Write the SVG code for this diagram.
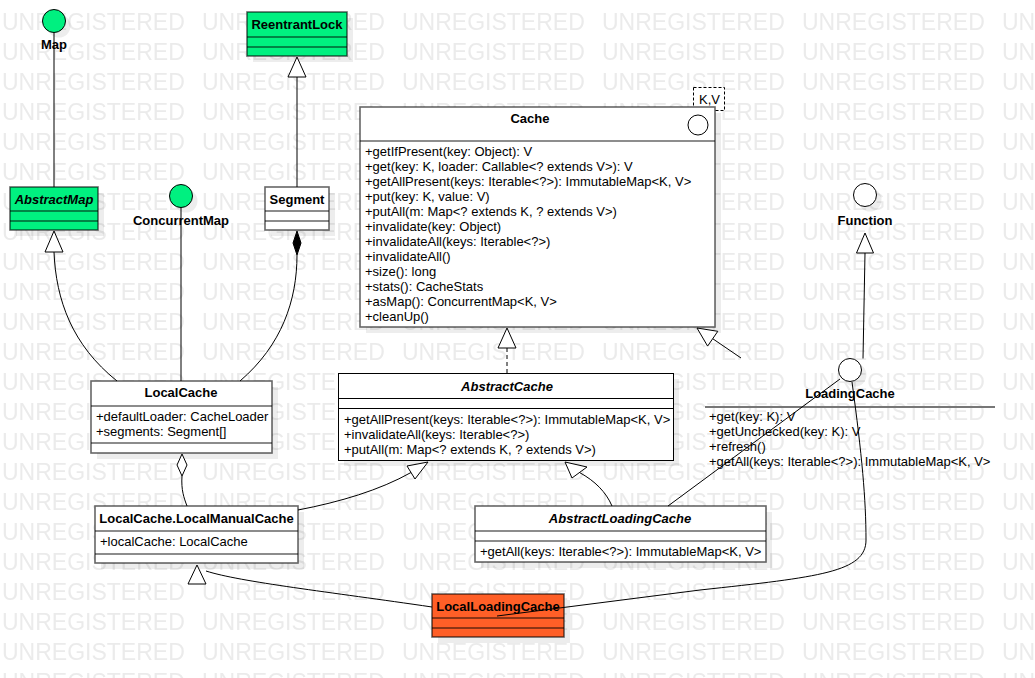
<svg xmlns="http://www.w3.org/2000/svg" width="1035" height="678" viewBox="0 0 1035 678">
<defs>
<style>
text{font-family:"Liberation Sans",Arial,sans-serif;font-size:13px;fill:#000}
.t{font-weight:bold;text-anchor:middle}
.ti{font-weight:bold;font-style:italic;text-anchor:middle}
.wm{font-size:23px;fill:#ebebeb}
.box{stroke:#000;stroke-opacity:.6;stroke-width:1.6}
.thin{stroke:#000;stroke-width:1}
.sep{stroke:#000;stroke-opacity:.6;stroke-width:1.6;fill:none}
.sept{stroke:#000;stroke-width:1;fill:none}
.sh{fill:#000;fill-opacity:.07}
.g{fill:#00f080}
.o{fill:#ff5f27}
.w{fill:#fff}
.circ{stroke:#000;stroke-width:1}
.c{fill:none;stroke:#000;stroke-width:1}
.hd{fill:#fff;stroke:#000;stroke-width:1}
.fd{fill:#000;stroke:#000;stroke-width:1}
</style>
<pattern id="wmp" width="200" height="30" patternUnits="userSpaceOnUse">
<text class="wm" x="2" y="30">UNREGISTERED</text>
</pattern>
</defs>
<rect width="1035" height="678" fill="#fff"/>
<rect width="1035" height="678" fill="url(#wmp)"/>

<g id="Map">
<circle class="sh" cx="59" cy="26" r="11.5"/>
<circle class="g circ" cx="54" cy="21" r="11.5"/>
<text class="t" x="54" y="49">Map</text>
</g>

<g id="ReentrantLock">
<rect class="sh" x="253" y="18" width="100" height="44"/>
<rect class="g box" x="247" y="12" width="100" height="44"/>
<path class="sep" d="M247,37H347M247,47H347"/>
<text class="t" x="297" y="29">ReentrantLock</text>
</g>

<g id="AbstractMap">
<rect class="sh" x="16" y="193" width="88" height="43"/>
<rect class="g box" x="10" y="187" width="88" height="43"/>
<path class="sep" d="M10,211H98M10,221H98"/>
<text class="ti" x="54" y="204">AbstractMap</text>
</g>

<g id="ConcurrentMap">
<circle class="sh" cx="186" cy="201" r="11.5"/>
<circle class="g circ" cx="181" cy="196" r="11.5"/>
<text class="t" x="181" y="225">ConcurrentMap</text>
</g>

<g id="Segment">
<rect class="sh" x="271" y="193" width="64" height="43"/>
<rect class="w box" x="265" y="187" width="64" height="43"/>
<path class="sep" d="M265,211H329M265,221H329"/>
<text class="t" x="297" y="204">Segment</text>
</g>

<g id="Cache">
<rect x="693.5" y="87.5" width="31" height="23" fill="#fff" stroke="#000" stroke-dasharray="3,2"/>
<text x="699" y="104">K,V</text>
<rect class="sh" x="366" y="113" width="355" height="220"/>
<rect class="w box" x="360" y="107" width="355" height="220"/>
<path class="sep" d="M360,141H715"/>
<circle class="w circ" cx="698" cy="125" r="10"/>
<text class="t" x="530" y="123">Cache</text>
<text x="365" y="156">+getIfPresent(key: Object): V</text>
<text x="365" y="171">+get(key: K, loader: Callable&lt;? extends V&gt;): V</text>
<text x="365" y="186">+getAllPresent(keys: Iterable&lt;?&gt;): ImmutableMap&lt;K, V&gt;</text>
<text x="365" y="201">+put(key: K, value: V)</text>
<text x="365" y="216">+putAll(m: Map&lt;? extends K, ? extends V&gt;)</text>
<text x="365" y="231">+invalidate(key: Object)</text>
<text x="365" y="246">+invalidateAll(keys: Iterable&lt;?&gt;)</text>
<text x="365" y="261">+invalidateAll()</text>
<text x="365" y="276">+size(): long</text>
<text x="365" y="291">+stats(): CacheStats</text>
<text x="365" y="306">+asMap(): ConcurrentMap&lt;K, V&gt;</text>
<text x="365" y="321">+cleanUp()</text>
</g>

<g id="Function">
<circle class="sh" cx="870" cy="200" r="11.5"/>
<circle class="w circ" cx="865" cy="195" r="11.5"/>
<text class="t" x="865" y="225">Function</text>
</g>

<g id="LocalCache">
<rect class="sh" x="97" y="387" width="181" height="72"/>
<rect class="w box" x="91" y="381" width="181" height="72"/>
<path class="sep" d="M91,406H272M91,443H272"/>
<text class="t" x="181" y="397">LocalCache</text>
<text x="96" y="421">+defaultLoader: CacheLoader</text>
<text x="96" y="436">+segments: Segment[]</text>
</g>

<g id="AbstractCache">
<rect class="sh" x="344" y="379" width="335" height="87"/>
<rect class="w thin" x="338.5" y="373.5" width="335" height="87"/>
<path class="sept" d="M338.5,398.5H673.5M338.5,408.5H673.5"/>
<text class="ti" x="507" y="391">AbstractCache</text>
<text x="344" y="424">+getAllPresent(keys: Iterable&lt;?&gt;): ImmutableMap&lt;K, V&gt;</text>
<text x="344" y="439">+invalidateAll(keys: Iterable&lt;?&gt;)</text>
<text x="344" y="454">+putAll(m: Map&lt;? extends K, ? extends V&gt;)</text>
</g>

<g id="LoadingCache">
<circle class="sh" cx="855" cy="375" r="11.5"/>
<circle class="w circ" cx="850" cy="370" r="11.5"/>
<text class="t" x="850" y="398">LoadingCache</text>
<path d="M705,407H995" stroke="#777" stroke-width="2"/>
<text x="709" y="421">+get(key: K): V</text>
<text x="709" y="436">+getUnchecked(key: K): V</text>
<text x="709" y="451">+refresh()</text>
<text x="709" y="466">+getAll(keys: Iterable&lt;?&gt;): ImmutableMap&lt;K, V&gt;</text>
</g>

<g id="LocalManualCache">
<rect class="sh" x="101" y="512" width="203" height="57"/>
<rect class="w box" x="95" y="506" width="203" height="57"/>
<path class="sep" d="M95,531H298M95,554H298"/>
<text class="t" x="196.5" y="523">LocalCache.LocalManualCache</text>
<text x="100" y="546">+localCache: LocalCache</text>
</g>

<g id="AbstractLoadingCache">
<rect class="sh" x="481" y="512" width="291" height="56"/>
<rect class="w box" x="475" y="506" width="291" height="56"/>
<path class="sep" d="M475,531H766M475,541H766"/>
<text class="ti" x="620" y="523">AbstractLoadingCache</text>
<text x="480" y="556">+getAll(keys: Iterable&lt;?&gt;): ImmutableMap&lt;K, V&gt;</text>
</g>

<g id="LocalLoadingCache">
<rect class="sh" x="438" y="600" width="132" height="43"/>
<rect class="o box" x="432" y="594" width="132" height="43"/>
<path class="sep" d="M432,618H564M432,628H564"/>
<text class="t" x="498" y="611">LocalLoadingCache</text>
</g>

<g id="connectors">
<path class="c" d="M54,32.5V187"/>
<path class="c" d="M181,207.5V381"/>
<path class="c" d="M297,77V187"/>
<polygon class="hd" points="297,57 288,77 306,77"/>
<path class="c" d="M117,381C72,345 56,300 54,252"/>
<polygon class="hd" points="54,231 45,252 63,252"/>
<path class="c" d="M240,381C282,345 297,300 297,255"/>
<polygon class="fd" points="297,231 293,243 297,255 301,243"/>
<path class="c" d="M507,373V348" stroke-dasharray="4,3"/>
<polygon class="hd" points="507,328 498,348 516,348"/>
<path class="c" d="M741,358L712.7,338.7"/>
<polygon class="hd" points="697,328 717.8,331.3 707.6,346.1"/>
<path class="c" d="M863,358.5L865,253"/>
<polygon class="hd" points="865,233 856.5,253 873.5,253"/>
<path class="c" d="M182,476C181,490 184,498 187,506"/>
<polygon class="hd" points="182,454 177,465 182,476 187,465"/>
<path class="c" d="M298,510C340,502 380,490 411,472.5"/>
<polygon class="hd" points="428,462 407,466 415,479"/>
<path class="c" d="M612,506C606,492 595,481 579.5,472.5"/>
<polygon class="hd" points="565,462 572,478 587,467"/>
<path class="c" d="M840,379L668,506"/>
<path class="c" d="M852,382C862,455 866,500 866,540C866,572 820,577 700,590L497,616"/>
<path class="c" d="M432,607C330,592 240,582 206,571"/>
<polygon class="hd" points="197,565 188,584 206,584"/>
</g>
</svg>
